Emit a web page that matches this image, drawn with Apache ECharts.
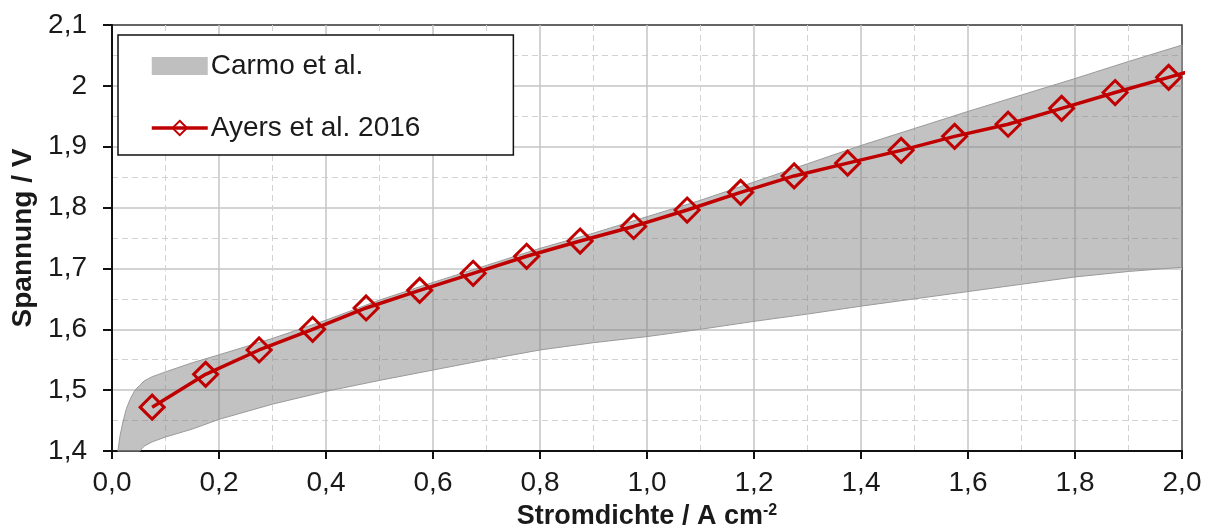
<!DOCTYPE html>
<html>
<head>
<meta charset="utf-8">
<script src="https://cdn.jsdelivr.net/npm/echarts@6/dist/echarts.min.js"></script>
<style>
html,body{margin:0;padding:0;background:#fff;}
#chart{width:1212px;height:529px;}
</style>
</head>
<body>
<div id="chart"></div>
<script>
// Carmo et al. range (band)
const bandX     = [0.011, 0.015, 0.02, 0.027, 0.035, 0.043, 0.052, 0.06, 0.075, 0.1, 0.15, 0.2, 0.3, 0.4, 0.5, 0.6, 0.7, 0.8, 0.9, 1.0, 1.1, 1.2, 1.3, 1.4, 1.5, 1.6, 1.7, 1.8, 1.9, 2.0];
const bandLower = [1.4, 1.4, 1.4, 1.4, 1.4, 1.4, 1.4, 1.408, 1.415, 1.423, 1.436, 1.452, 1.477, 1.498, 1.516, 1.533, 1.55, 1.566, 1.578, 1.588, 1.6, 1.613, 1.625, 1.638, 1.65, 1.662, 1.674, 1.686, 1.695, 1.702];
const bandUpper = [1.4, 1.425, 1.446, 1.47, 1.487, 1.5, 1.508, 1.515, 1.522, 1.53, 1.545, 1.558, 1.585, 1.615, 1.648, 1.677, 1.705, 1.733, 1.758, 1.785, 1.812, 1.842, 1.872, 1.902, 1.93, 1.958, 1.985, 2.012, 2.04, 2.067];
// Ayers et al. 2016 (last point lies just beyond the axis end and is clipped)
const ayersX = [0.075, 0.175, 0.275, 0.375, 0.475, 0.575, 0.675, 0.775, 0.875, 0.975, 1.075, 1.175, 1.275, 1.375, 1.475, 1.575, 1.675, 1.775, 1.875, 1.975, 2.075];
const ayersY = [1.472, 1.526, 1.566, 1.600, 1.635, 1.664, 1.692, 1.720, 1.745, 1.769, 1.796, 1.825, 1.852, 1.873, 1.894, 1.917, 1.937, 1.963, 1.989, 2.014, 2.039];
const seriesNames = ['Carmo et al.', 'Ayers et al. 2016'];
const xTitleMain = 'Stromdichte / A cm';
const xTitleSup = '-2';
const yTitle = 'Spannung / V';

const bandData = bandX.map((x, i) => [x, bandLower[i], bandUpper[i]]);
const ayersData = ayersX.map((x, i) => [x, ayersY[i]]);

const FONT = '"Liberation Sans", Arial, sans-serif';
const TXT = '#1a1a1a';
const chart = echarts.init(document.getElementById('chart'), null, {renderer: 'canvas'});
chart.setOption({
  animation: false,
  backgroundColor: '#fff',
  textStyle: {fontFamily: FONT},
  grid: {left: 112, right: 30, top: 25, bottom: 78, show: true, borderColor: '#333', borderWidth: 1.5,
         containLabel: false, outerBoundsMode: 'none'},
  legend: {
    left: 118, top: 35, orient: 'vertical',
    backgroundColor: '#fff', borderColor: '#111', borderWidth: 1.5, borderRadius: 0,
    padding: [17, 93, 13, 32], itemGap: 34, itemWidth: 56, itemHeight: 18,
    textStyle: {fontFamily: FONT, fontSize: 28, color: TXT, padding: [0, 0, 0, -2]},
    data: [
      {name: seriesNames[0], icon: 'rect', itemStyle: {color: '#bfbfbf', borderWidth: 0}},
      {name: seriesNames[1], lineStyle: {width: 3.5, color: '#c00000'}}
    ]
  },
  xAxis: {
    type: 'value', min: 0, max: 2, interval: 0.2,
    name: '{b|' + xTitleMain + '}{s|' + xTitleSup + '}', nameLocation: 'middle', nameGap: 52,
    nameTextStyle: {
      rich: {
        b: {fontFamily: FONT, fontSize: 27, fontWeight: 'bold', color: TXT},
        s: {fontFamily: FONT, fontSize: 16, fontWeight: 'bold', color: TXT, verticalAlign: 'top', padding: [0, 0, 12, 0]}
      }
    },
    axisLine: {show: true, onZero: false, lineStyle: {color: '#111', width: 2}},
    axisTick: {show: true, length: 8, lineStyle: {color: '#111', width: 2}},
    axisLabel: {fontFamily: FONT, fontSize: 28, color: TXT, margin: 18,
      formatter: v => v.toFixed(1).replace('.', ',')},
    splitLine: {show: true, showMaxLine: false, showMinLine: false, lineStyle: {color: '#c4c4c4', width: 1.5}},
    minorTick: {show: false, splitNumber: 2},
    minorSplitLine: {show: true, lineStyle: {color: '#d2d2d2', width: 1, type: [6, 4]}}
  },
  yAxis: {
    type: 'value', min: 1.4, max: 2.1, interval: 0.1,
    name: yTitle, nameLocation: 'middle', nameGap: 72, nameRotate: 90,
    nameTextStyle: {fontFamily: FONT, fontSize: 28, fontWeight: 'bold', color: TXT},
    axisLine: {show: true, onZero: false, lineStyle: {color: '#111', width: 2}},
    axisTick: {show: true, length: 9, lineStyle: {color: '#111', width: 2}},
    axisLabel: {fontFamily: FONT, fontSize: 28, color: TXT, margin: 25,
      formatter: v => String(parseFloat(v.toFixed(2))).replace('.', ',')},
    splitLine: {show: true, showMaxLine: false, showMinLine: false, lineStyle: {color: '#c4c4c4', width: 1.5}},
    minorTick: {show: false, splitNumber: 2},
    minorSplitLine: {show: true, lineStyle: {color: '#d2d2d2', width: 1, type: [6, 4]}}
  },
  series: [
    {
      name: seriesNames[0], type: 'custom', data: bandData, silent: true,
      encode: {x: 0, y: [1, 2]},
      itemStyle: {color: '#bfbfbf'},
      renderItem: function (params, api) {
        if (params.dataIndex !== 0) return null;
        const up = bandX.map((x, i) => api.coord([x, bandUpper[i]]));
        const lo = bandX.map((x, i) => api.coord([x, bandLower[i]]));
        const pts = up.concat(lo.slice().reverse());
        return {
          type: 'polygon',
          shape: {points: pts, smooth: 0},
          style: {fill: 'rgba(128,128,128,0.48)', stroke: '#9a9a9a', lineWidth: 1}
        };
      },
      z: 2
    },
    {
      name: seriesNames[1], type: 'line', data: ayersData, clip: true,
      symbol: 'diamond', symbolSize: [24, 24], showSymbol: true,
      lineStyle: {color: '#c00000', width: 3.5},
      itemStyle: {color: 'rgba(0,0,0,0)', borderColor: '#c00000', borderWidth: 3},
      z: 5
    }
  ]
});
</script>
</body>
</html>
